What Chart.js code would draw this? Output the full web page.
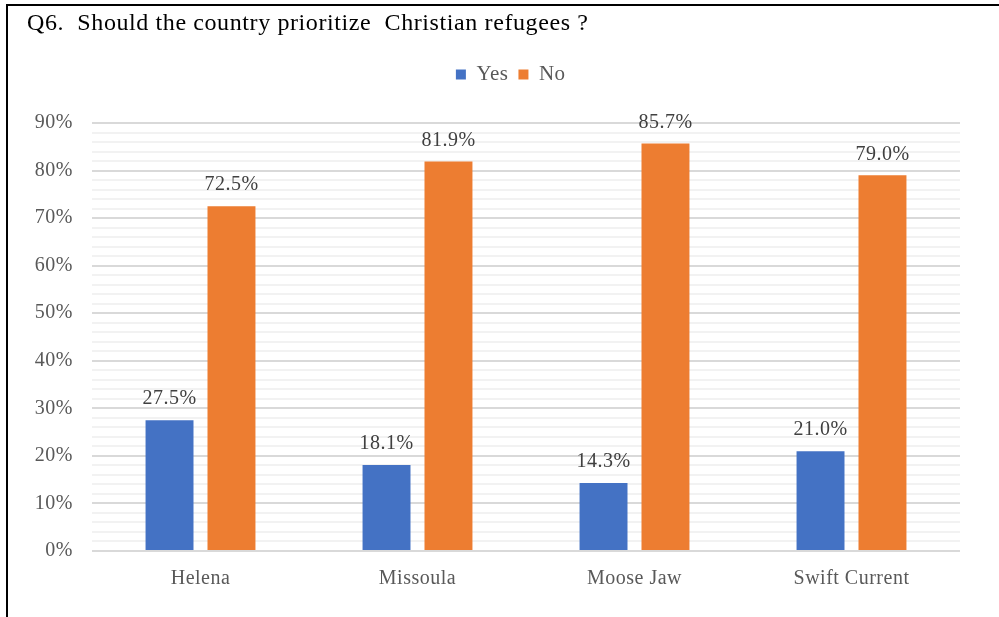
<!DOCTYPE html>
<html>
<head>
<meta charset="utf-8">
<script src="https://cdn.jsdelivr.net/npm/chart.js@4/dist/chart.umd.min.js"></script>
<style>
  html, body { margin: 0; padding: 0; background: #fff; }
  #wrap { position: relative; width: 999px; height: 617px; overflow: hidden; }
  #frame { position: absolute; left: 6px; top: 4px; width: 1000px; height: 700px;
           border-top: 2px solid #000; border-left: 2px solid #000; pointer-events: none; }
  canvas { position: absolute; left: 0; top: 0; }
</style>
</head>
<body>
<div id="wrap">
  <canvas id="chart" width="999" height="617"></canvas>
  <div id="frame"></div>
</div>
<script>
// Survey results by city
const cities = ['Helena', 'Missoula', 'Moose Jaw', 'Swift Current'];
const yesValues = [27.5, 18.1, 14.3, 21.0];
const noValues = [72.5, 81.9, 85.7, 79.0];
const seriesNames = ['Yes', 'No'];
const titleText = 'Q6.  Should the country prioritize  Christian refugees ?';

const serif = "'Liberation Serif', 'Times New Roman', serif";

// Slightly spaced text throughout, extra room under the legend
const textStyle = {
  id: 'textStyle',
  afterInit(chart) {
    const lg = chart.legend;
    const fit = lg.fit.bind(lg);
    lg.fit = function () { fit(); this.height += 28; };
  },
  afterLayout(chart) {
    // centre the legend over the page rather than the padded area
    chart.legend.left += 16;
    chart.legend.right += 16;
  },
  beforeDraw(chart) {
    chart.ctx.letterSpacing = '0.5px';
  }
};

// Left-aligned heading
const heading = {
  id: 'heading',
  afterDraw(chart) {
    const ctx = chart.ctx;
    ctx.save();
    ctx.letterSpacing = '0.6px';
    ctx.font = '24px ' + serif;
    ctx.fillStyle = '#000';
    ctx.textAlign = 'left';
    ctx.textBaseline = 'alphabetic';
    ctx.fillText(titleText, 27, 30);
    ctx.restore();
  }
};

// Percentage labels above each bar
const valueLabels = {
  id: 'valueLabels',
  afterDatasetsDraw(chart) {
    const ctx = chart.ctx;
    ctx.save();
    ctx.font = '20px ' + serif;
    ctx.fillStyle = '#404040';
    ctx.textAlign = 'center';
    ctx.textBaseline = 'bottom';
    chart.data.datasets.forEach((ds, i) => {
      chart.getDatasetMeta(i).data.forEach((bar, j) => {
        ctx.fillText(ds.data[j].toFixed(1) + '%', bar.x, bar.y - 11);
      });
    });
    ctx.restore();
  }
};

new Chart(document.getElementById('chart'), {
  type: 'bar',
  data: {
    labels: cities,
    datasets: [
      { label: seriesNames[0], data: yesValues, backgroundColor: '#4472c4' },
      { label: seriesNames[1], data: noValues, backgroundColor: '#ed7d31' }
    ]
  },
  options: {
    responsive: false,
    animation: false,
    devicePixelRatio: 1,
    categoryPercentage: 0.571,
    barPercentage: 0.774,
    layout: { padding: { left: 27, right: 39, top: 54, bottom: 10 } },
    plugins: {
      title: { display: false },
      legend: {
        display: true,
        labels: {
          color: '#595959',
          font: { family: serif, size: 21 },
          boxWidth: 10,
          boxHeight: 10,
          padding: 10
        }
      },
      tooltip: { enabled: false }
    },
    scales: {
      x: {
        grid: { display: false, drawTicks: false },
        border: { display: false },
        ticks: { color: '#595959', font: { family: serif, size: 20 }, padding: 16 }
      },
      y: {
        min: 0,
        max: 90,
        afterFit(scale) { scale.width = 65; },
        border: { display: false },
        grid: {
          drawTicks: false,
          color: ctx => (ctx.tick && ctx.tick.value % 10 === 0) ? '#d9d9d9' : '#f2f2f2',
          lineWidth: 2
        },
        ticks: {
          stepSize: 2,
          autoSkip: false,
          color: '#595959',
          font: { family: serif, size: 20 },
          padding: 19,
          callback: v => (v % 10 === 0 ? v + '%' : '')
        }
      }
    }
  },
  plugins: [textStyle, heading, valueLabels]
});
</script>
</body>
</html>
